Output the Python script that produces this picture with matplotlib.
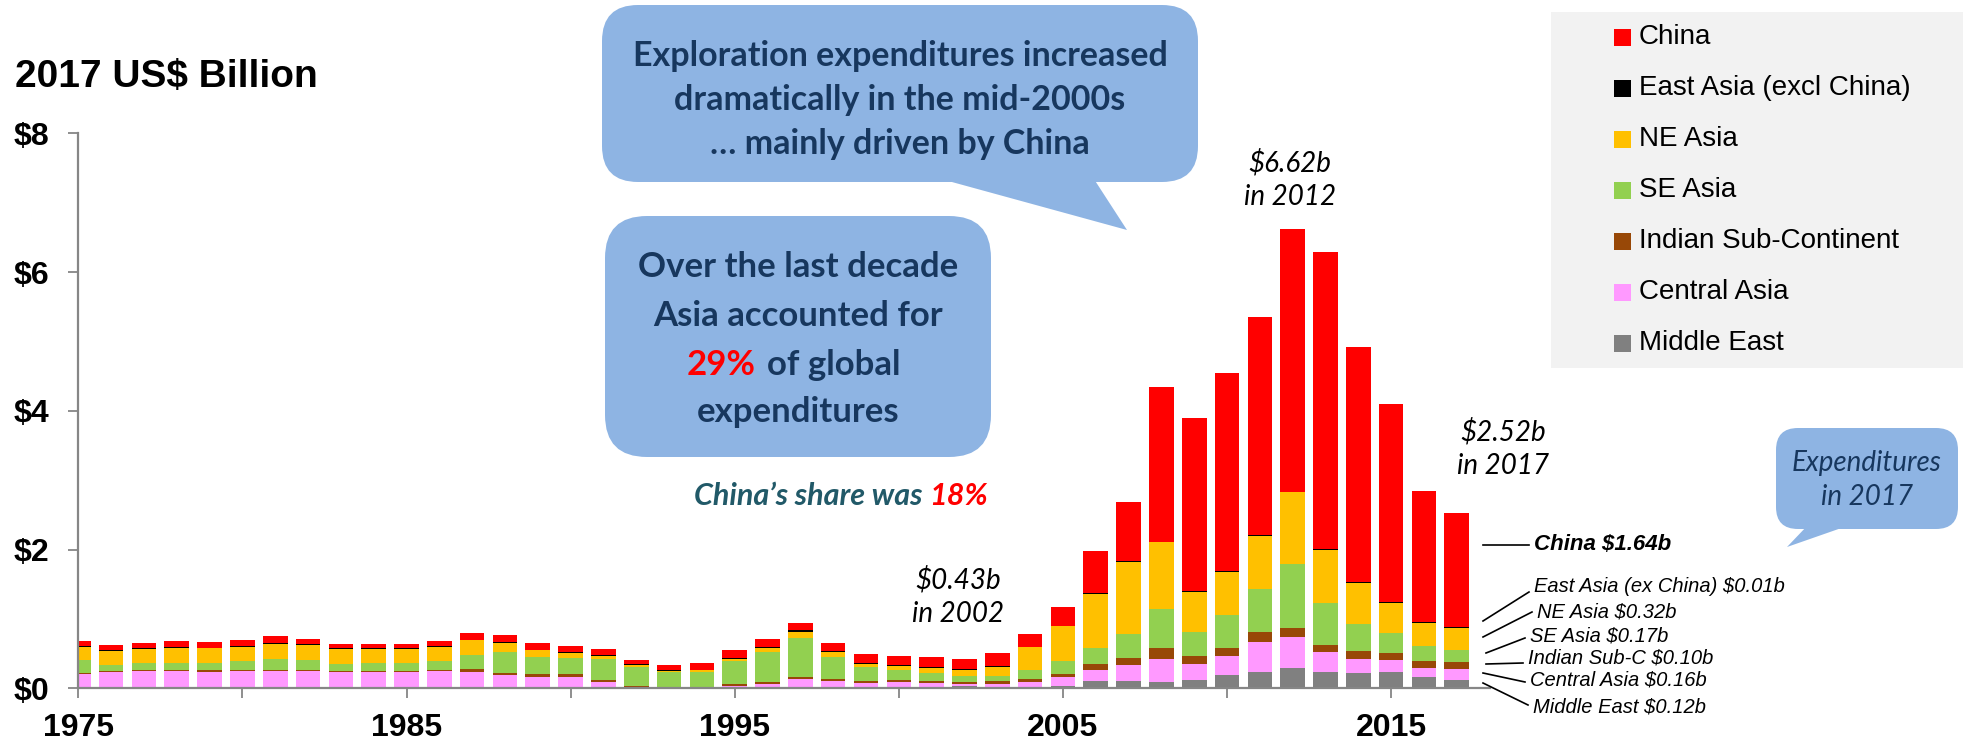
import numpy as np
import matplotlib.pyplot as plt
from matplotlib.patches import FancyBboxPatch, Polygon, Rectangle
from matplotlib.lines import Line2D

# Datos: gasto en exploracion en Asia, 2017 US$ miles de millones
years = list(range(1975, 2018))

middle_east = [0.0] * 18 + [
    0.005, 0.005, 0.005, 0.005, 0.019, 0.014, 0.01, 0.01, 0.019, 0.029,
    0.019, 0.024, 0.038, 0.101, 0.101, 0.096, 0.115, 0.187, 0.238, 0.295,
    0.233, 0.223, 0.228, 0.161, 0.12]
central_asia = [
    0.21, 0.24, 0.245, 0.245, 0.24, 0.245, 0.255, 0.245, 0.24, 0.24,
    0.24, 0.25, 0.24, 0.19, 0.165, 0.165, 0.095, 0.025, 0.005, 0.005,
    0.035, 0.06, 0.11, 0.085, 0.065, 0.075, 0.06, 0.04, 0.05, 0.065,
    0.125, 0.16, 0.235, 0.33, 0.23, 0.285, 0.435, 0.44, 0.295, 0.2,
    0.18, 0.135, 0.16]
indian = [
    0.015, 0.015, 0.02, 0.02, 0.03, 0.015, 0.015, 0.02, 0.01, 0.015,
    0.015, 0.015, 0.035, 0.035, 0.035, 0.045, 0.025, 0.015, 0.01, 0.01,
    0.015, 0.02, 0.04, 0.04, 0.035, 0.03, 0.02, 0.02, 0.035, 0.04,
    0.04, 0.085, 0.095, 0.15, 0.115, 0.115, 0.135, 0.13, 0.095, 0.12,
    0.095, 0.095, 0.10]
se_asia = [
    0.18, 0.085, 0.095, 0.105, 0.10, 0.13, 0.155, 0.145, 0.105, 0.115,
    0.115, 0.125, 0.21, 0.30, 0.25, 0.22, 0.30, 0.265, 0.215, 0.22,
    0.335, 0.445, 0.55, 0.315, 0.20, 0.145, 0.12, 0.085, 0.075, 0.135,
    0.185, 0.235, 0.355, 0.56, 0.345, 0.47, 0.62, 0.93, 0.60, 0.39,
    0.30, 0.225, 0.17]
ne_asia = [
    0.195, 0.20, 0.21, 0.215, 0.205, 0.21, 0.22, 0.215, 0.21, 0.20,
    0.20, 0.21, 0.205, 0.13, 0.095, 0.08, 0.05, 0.03, 0.015, 0.02,
    0.035, 0.055, 0.09, 0.075, 0.045, 0.065, 0.075, 0.095, 0.135, 0.325,
    0.505, 0.785, 1.035, 0.975, 0.59, 0.62, 0.77, 1.03, 0.765, 0.585,
    0.43, 0.33, 0.32]
east_asia = [0.01] * 21 + [
    0.015, 0.025, 0.01, 0.01, 0.015, 0.02, 0.005, 0.005, 0.005, 0.005,
    0.01, 0.01, 0.005, 0.005, 0.01, 0.015, 0.01, 0.015, 0.015, 0.015,
    0.005, 0.01]
china = [
    0.07, 0.07, 0.08, 0.085, 0.08, 0.09, 0.10, 0.08, 0.065, 0.06,
    0.065, 0.075, 0.09, 0.10, 0.095, 0.095, 0.08, 0.07, 0.08, 0.095,
    0.115, 0.11, 0.11, 0.12, 0.125, 0.12, 0.135, 0.155, 0.185, 0.195,
    0.28, 0.61, 0.85, 2.22, 2.5, 2.865, 3.135, 3.785, 4.285, 3.385,
    2.845, 1.89, 1.64]

series = [middle_east, central_asia, indian, se_asia, ne_asia, east_asia, china]
names = ['Middle East', 'Central Asia', 'Indian Sub-Continent', 'SE Asia',
         'NE Asia', 'East Asia (excl China)', 'China']
colors = ['#808080', '#FF99FF', '#984807', '#92D050', '#FFC000', '#000000', '#FF0000']

labels_2017 = ['Middle East \\$0.12b', 'Central Asia \\$0.16b', 'Indian Sub-C \\$0.10b',
               'SE Asia \\$0.17b', 'NE Asia \\$0.32b', 'East Asia (ex China) \\$0.01b',
               'China \\$1.64b']

W, H = 1968, 744
fig = plt.figure(figsize=(W / 100, H / 100), dpi=100)
ax = fig.add_axes([78.3 / W, 1 - 688.3 / H, (1489.6 - 78.3) / W, (688.3 - 133.3) / H])

# Barras apiladas
bottom = np.zeros(len(years))
for vals, c in zip(series, colors):
    ax.bar(years, vals, 0.75, bottom=bottom, color=c, edgecolor='none', zorder=2)
    bottom = bottom + np.array(vals)

ax.set_xlim(1975, 2018)
ax.set_ylim(0, 8)
xt = list(range(1975, 2016, 5))
ax.set_xticks(xt)
ax.set_xticklabels([str(t) if (t - 1975) % 10 == 0 else '' for t in xt])
ax.set_yticks([0, 2, 4, 6, 8])
ax.set_yticklabels(['\\$0', '\\$2', '\\$4', '\\$6', '\\$8'])
for s in ['top', 'right']:
    ax.spines[s].set_visible(False)
for s in ['left', 'bottom']:
    ax.spines[s].set_color('#868686')
    ax.spines[s].set_linewidth(1.6)
ax.tick_params(axis='both', direction='out', length=7, width=1.3, color='#868686')
ax.tick_params(axis='y', pad=14)
ax.tick_params(axis='x', pad=11)
for lab in ax.get_xticklabels() + ax.get_yticklabels():
    lab.set_fontfamily('Liberation Sans')
    lab.set_fontweight('bold')
    lab.set_fontsize(23)

def P(x, y):
    # pixeles (desde arriba a la izquierda) a pulgadas de la figura
    return (x / 100, (H - y) / 100)

T = fig.dpi_scale_trans

fig.text(15 / W, 1 - 77 / H, '2017 US\\$ Billion', fontsize=28, fontweight='bold',
         family='Liberation Sans', va='center', ha='left')

# Burbujas
blue = '#8EB4E3'
navy = '#17375E'

def bubble(x0, y0, x1, y1, r, tail=None):
    p = FancyBboxPatch(P(x0, y1), (x1 - x0) / 100, (y1 - y0) / 100,
                       boxstyle='round,pad=0,rounding_size=%f' % (r / 100),
                       transform=T, fc=blue, ec='none', zorder=5)
    fig.add_artist(p)
    if tail:
        fig.add_artist(Polygon([P(*pt) for pt in tail], closed=True, transform=T,
                               fc=blue, ec='none', zorder=5))

bubble(602, 5, 1198, 182, 36, [(930, 176), (1127, 230), (1092, 176)])
bubble(605, 216, 991, 457, 42)
bubble(1776, 428, 1958, 529, 22, [(1808, 525), (1787, 547), (1850, 525)])

for txt, y in [('Exploration expenditures increased', 56),
               ('dramatically in the mid-2000s', 100),
               ('\u2026 mainly driven by China', 144)]:
    fig.text(900 / W, 1 - y / H, txt, family='Lato', fontweight='bold', fontsize=24.5,
             color=navy, ha='center', va='center', zorder=6)

for txt, y in [('Over the last decade', 267), ('Asia accounted for', 316),
               ('expenditures', 412)]:
    fig.text(798 / W, 1 - y / H, txt, family='Lato', fontweight='bold', fontsize=25,
             color=navy, ha='center', va='center', zorder=6)
fig.text(756 / W, 1 - 365 / H, '29%', family='Lato', fontweight='bold', fontsize=25,
         color='#FF0000', ha='right', va='center', zorder=6)
fig.text(767 / W, 1 - 365 / H, 'of global', family='Lato', fontweight='bold', fontsize=25,
         color=navy, ha='left', va='center', zorder=6)

fig.text(922 / W, 1 - 496 / H, 'China\u2019s share was', family='Lato', fontweight='bold',
         style='italic', fontsize=22, color='#215968', ha='right', va='center')
fig.text(929 / W, 1 - 496 / H, '18%', family='Lato', fontweight='bold',
         style='italic', fontsize=22, color='#FF0000', ha='left', va='center')

for txt, y in [('Expenditures', 463), ('in 2017', 497)]:
    fig.text(1867 / W, 1 - y / H, txt, family='Lato', style='italic', fontsize=20,
             color=navy, ha='center', va='center', zorder=6)

# Etiquetas de totales
for t1, t2, x, y in [('\\$0.43b', 'in 2002', 958, 580),
                     ('\\$6.62b', 'in 2012', 1290, 163),
                     ('\\$2.52b', 'in 2017', 1503, 432)]:
    fig.text(x / W, 1 - y / H, t1, family='Lato', style='italic', fontsize=20,
             ha='center', va='center')
    fig.text(x / W, 1 - (y + 34) / H, t2, family='Lato', style='italic', fontsize=20,
             ha='center', va='center')

# Etiquetas 2017 con lineas guia
guides = [((1483, 683), (1528, 705), 707),
          ((1483, 673), (1525, 682), 680),
          ((1486, 664), (1523, 663), 658),
          ((1486, 653), (1525, 638), 636),
          ((1483, 637), (1532, 612), 612),
          ((1483, 621), (1529, 592), 587),
          ((1483, 545), (1529, 545), 545)]
for lab, (a, b, ty) in zip(labels_2017, guides):
    fig.add_artist(Line2D([P(*a)[0], P(*b)[0]], [P(*a)[1], P(*b)[1]], transform=T,
                          color='black', lw=1.2))
    bold = lab.startswith('China')
    fig.text((b[0] + 5) / W, 1 - ty / H, lab, family='Liberation Sans', style='italic',
             fontweight='bold' if bold else 'normal', fontsize=16 if bold else 14.5,
             ha='left', va='center')

# Leyenda
fig.add_artist(Rectangle(P(1551, 368), 412 / 100, 356 / 100, transform=T,
                         fc='#F2F2F2', ec='none', zorder=1))
for i, (n, c) in enumerate(zip(names[::-1], colors[::-1])):
    y = 37 + 51 * i
    fig.add_artist(Rectangle(P(1614, y + 8.5), 0.17, 0.17, transform=T,
                             fc=c, ec='none', zorder=2))
    fig.text(1639 / W, 1 - y / H, n, family='Liberation Sans', fontsize=20,
             ha='left', va='center', zorder=3)

fig.savefig('out.png', dpi=100)
